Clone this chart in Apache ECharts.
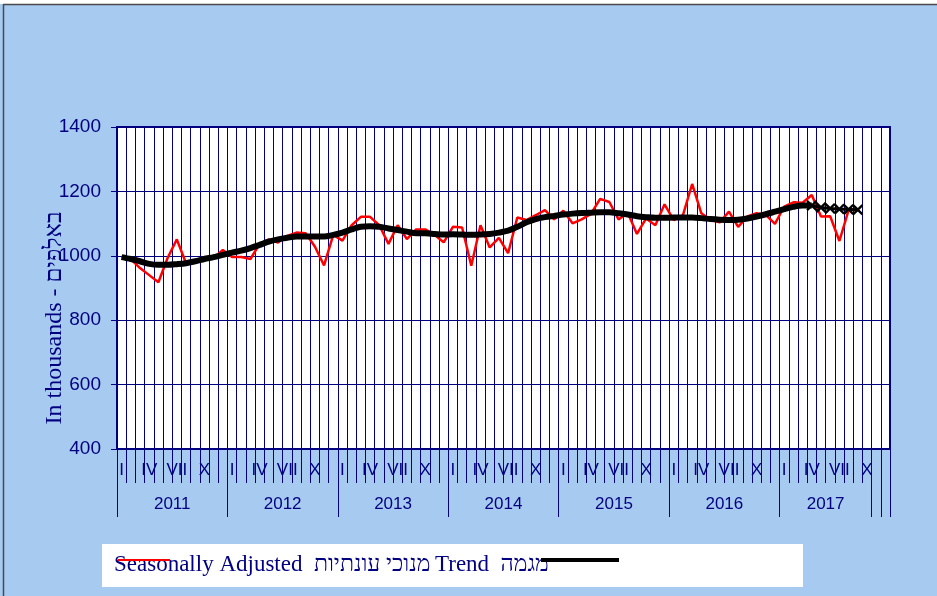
<!DOCTYPE html>
<html>
<head>
<meta charset="utf-8">
<script src="https://cdn.jsdelivr.net/npm/echarts@6/dist/echarts.min.js"></script>
<style>html,body{margin:0;padding:0;background:#fff;}#c{width:937px;height:596px;}</style>
</head>
<body>
<div id="c"></div>
<script>
// ---- data ----
var years = ['2011','2012','2013','2014','2015','2016','2017'];
var monthTickLabels = ['I','','','IV','','','VII','','','X','',''];
var monthsInLastYear = 10;
var extraCategories = 2;
var yTicks = [400, 600, 800, 1000, 1200, 1400];

var seasonallyAdjusted = [
  997, 990, 962, 940, 918, 993, 1051, 977, 979, 996, 993, 1018,
  996, 996, 990, 1037, 1051, 1041, 1062, 1072, 1070, 1029, 970, 1065,
  1047, 1095, 1121, 1121, 1095, 1037, 1095, 1052, 1082, 1082, 1065, 1042,
  1090, 1088, 969, 1095, 1026, 1056, 1008, 1119, 1111, 1126, 1142, 1113,
  1140, 1101, 1113, 1130, 1177, 1167, 1113, 1134, 1068, 1116, 1095, 1160,
  1111, 1126, 1223, 1132, 1111, 1104, 1137, 1090, 1122, 1132, 1127, 1099,
  1153, 1166, 1165, 1189, 1122, 1123, 1046, 1142, 1143
];
var trend = [
  996, 990, 983, 975, 972, 972, 974, 977, 983, 990, 996, 1003,
  1010, 1016, 1024, 1034, 1044, 1051, 1056, 1060, 1060, 1060, 1060, 1065,
  1072, 1082, 1090, 1092, 1090, 1085, 1080, 1075, 1070, 1070, 1068, 1066,
  1067, 1066, 1065, 1066, 1068, 1072, 1078, 1090, 1104, 1114, 1120, 1124,
  1128, 1131, 1133, 1134, 1135, 1135, 1132, 1128, 1123, 1120, 1118, 1118,
  1119, 1119, 1119, 1117, 1114, 1112, 1111, 1112, 1116, 1122, 1129, 1137,
  1145, 1152, 1156, 1156
];
var trendProjectionStart = 75;
var trendProjection = [1156, 1150, 1147, 1145, 1144, 1143];

// ---- build categories ----
var categories = [], catLabels = [];
years.forEach(function (y, yi) {
  var n = (yi === years.length - 1) ? monthsInLastYear : 12;
  for (var m = 0; m < n; m++) { categories.push(y + '-' + (m + 1)); catLabels.push(monthTickLabels[m]); }
});
for (var e = 0; e < extraCategories; e++) { categories.push('extra' + e); catLabels.push(''); }
var N = categories.length;

var yearBounds = [], yearCenters = [], yearCenterLabel = {};
var pos = 0;
years.forEach(function (y, yi) {
  var n = (yi === years.length - 1) ? monthsInLastYear : 12;
  yearBounds.push(pos);
  yearCenters.push(pos + n / 2);
  yearCenterLabel[pos + n / 2] = y;
  pos += n;
});
for (var e2 = 0; e2 <= extraCategories; e2++) yearBounds.push(pos + e2);

function pad(arr, start) {
  var out = [];
  for (var i = 0; i < N; i++) {
    var k = i - start;
    out.push(k >= 0 && k < arr.length ? arr[k] : null);
  }
  return out;
}

var navy = '#000080';
var chart = echarts.init(document.getElementById('c'), null, { renderer: 'canvas' });
chart.setOption({
  animation: false,
  backgroundColor: '#A6CAF0',
  grid: { left: 117, right: 47, top: 127, bottom: 147, show: true, backgroundColor: '#ffffff', borderColor: navy, borderWidth: 2 },
  xAxis: [{
    type: 'category', data: categories, boundaryGap: true, gridIndex: 0, position: 'bottom',
    axisLine: { show: true, lineStyle: { color: navy, width: 2 } },
    axisTick: { show: true, interval: 0, length: 34, lineStyle: { color: navy, width: 1 } },
    axisLabel: { interval: 0, margin: 13, color: navy, fontFamily: 'Liberation Sans', fontSize: 17,
      formatter: function (v, i) { return catLabels[i]; } },
    splitLine: { show: true, interval: 0, lineStyle: { color: navy, width: 1 } }
  }, {
    type: 'value', min: 0, max: N, gridIndex: 0, position: 'bottom',
    axisLine: { show: false },
    splitLine: { show: false },
    axisTick: { show: true, customValues: yearBounds, length: 68, lineStyle: { color: navy, width: 1 } },
    axisLabel: { show: true, customValues: yearCenters, margin: 47, color: navy, fontFamily: 'Liberation Sans', fontSize: 17,
      formatter: function (v) { return yearCenterLabel[v] || ''; } }
  }],
  yAxis: {
    type: 'value', min: yTicks[0], max: yTicks[yTicks.length - 1], interval: 200,
    axisLine: { show: true, lineStyle: { color: navy, width: 2 } },
    axisTick: { show: true, length: 6, lineStyle: { color: navy } },
    axisLabel: { margin: 16, color: navy, fontFamily: 'Liberation Sans', fontSize: 19,
      formatter: function (v) { return String(v); } },
    splitLine: { show: true, lineStyle: { color: navy, width: 1 } }
  },
  series: [{
    name: 'Seasonally Adjusted', type: 'line', data: pad(seasonallyAdjusted, 0), xAxisIndex: 0,
    showSymbol: false, symbol: 'none', lineStyle: { color: '#ff0000', width: 2.5 }, z: 3
  }, {
    name: 'Trend', type: 'line', data: pad(trend, 0), xAxisIndex: 0, smooth: 0.3,
    showSymbol: false, symbol: 'none', lineStyle: { color: '#000000', width: 6 }, z: 4
  }, {
    name: 'Trend projection', type: 'line', data: pad(trendProjection, trendProjectionStart), xAxisIndex: 0,
    symbol: 'path://M0,1.5L1.5,0L5,3.5L8.5,0L10,1.5L6.5,5L10,8.5L8.5,10L5,6.5L1.5,10L0,8.5L3.5,5Z', symbolSize: 11,
    showSymbol: true, itemStyle: { color: '#000000' }, lineStyle: { color: '#000000', width: 3 }, z: 5
  }],
  graphic: [
    { type: 'rect', shape: { x: 0, y: 0, width: 937, height: 4 }, style: { fill: '#ffffff' }, z: 50 },
    { type: 'line', shape: { x1: 3, y1: 4.5, x2: 937, y2: 4.5 }, style: { stroke: '#4a4a4a', lineWidth: 1.5 }, z: 50 },
    { type: 'line', shape: { x1: 3.5, y1: 4, x2: 3.5, y2: 596 }, style: { stroke: '#4a4a4a', lineWidth: 1.5 }, z: 50 },
    { type: 'text', x: 55, y: 318, rotation: Math.PI / 2,
      style: { text: 'In thousands - באלפים', fill: navy, font: '24px "Liberation Serif"', textAlign: 'center', textVerticalAlign: 'middle' }, z: 50 },
    { type: 'rect', shape: { x: 102, y: 544, width: 701, height: 43 }, style: { fill: '#ffffff' }, z: 50 },
    { type: 'text', x: 114, y: 565,
      style: { text: 'Seasonally Adjusted  מנוכי עונתיות', fill: navy, font: '23px "Liberation Serif"', textAlign: 'left', textVerticalAlign: 'middle' }, z: 51 },
    { type: 'text', x: 435, y: 565,
      style: { text: 'Trend  מגמה', fill: navy, font: '23px "Liberation Serif"', textAlign: 'left', textVerticalAlign: 'middle' }, z: 51 },
    { type: 'line', shape: { x1: 118, y1: 560, x2: 170, y2: 560 }, style: { stroke: '#ff0000', lineWidth: 2 }, z: 52 },
    { type: 'line', shape: { x1: 541, y1: 560, x2: 619, y2: 560 }, style: { stroke: '#000000', lineWidth: 4 }, z: 52 }
  ]
});
</script>
</body>
</html>
